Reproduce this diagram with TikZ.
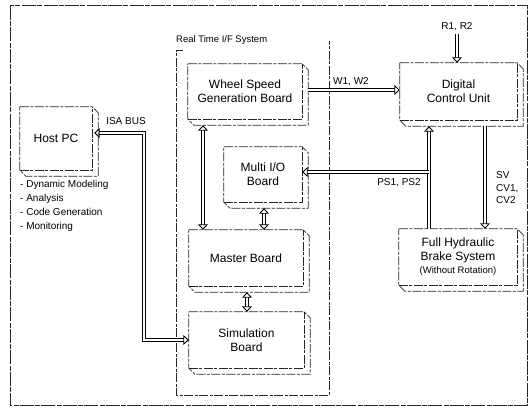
\documentclass[tikz,border=0pt]{standalone}
\usepackage{fontspec}
\setmainfont{Liberation Sans}
\usetikzlibrary{arrows.meta,calc}
\tikzset{
  boxline/.style={draw=black!85, line width=0.8pt, dash pattern=on 9pt off 1.5pt on 3pt off 1.5pt},
  frame/.style={draw=black!85, line width=1pt, dash pattern=on 14pt off 1.5pt on 5pt off 1pt},
  tdnode/.style={draw=none, inner sep=0pt, align=center, font=\fontsize{12}{14}\selectfont},
  dbl/.style={draw=black, line width=0.9pt, double=white, double distance=2.6pt},
  htip/.tip={Triangle[open, length=5.5pt, width=10pt, line width=0.9pt]},
  lbl/.style={font=\fontsize{10}{12}\selectfont, inner sep=0pt},
}
\newcommand\tdbox[1]{%
  \draw[boxline] (#1.north west) -- (#1.north east) -- ([shift={(6pt,-6pt)}]#1.north east)
    -- ([shift={(6pt,-6pt)}]#1.south east) -- ([shift={(6pt,-6pt)}]#1.south west)
    -- (#1.south west) -- cycle;
  \draw[boxline] (#1.south west) -- (#1.south east) -- (#1.north east);
  \coordinate (#1-os) at ([yshift=-6pt]#1.south);
  \coordinate (#1-oe) at ([xshift=6pt]#1.east);
}
\begin{document}
\begin{tikzpicture}[x=1pt,y=-1pt]
\useasboundingbox (0,0) rectangle (532,409);
% outer frame
\draw[frame] (10,6) rectangle (527,405);
% real time container
\node[lbl, anchor=west, font=\fontsize{9.5}{11}\selectfont] (rtlbl) at (176,40) {Real Time I/F System};
\draw[boxline] (183,50) -- (176,50) -- (176,395) -- (329,395) -- (329,41);

% boxes (front faces)
\node[tdnode, minimum width=72pt, minimum height=63pt] (host) at (56,138.5) {Host PC};
\node[tdnode, minimum width=114pt, minimum height=55pt] (wsgb) at (245,91.5) {Wheel Speed\\Generation Board};
\node[tdnode, minimum width=78pt, minimum height=55pt] (mio) at (263,174.5) {Multi I/O\\Board};
\node[tdnode, minimum width=114pt, minimum height=56pt] (master) at (246,258) {Master Board};
\node[tdnode, minimum width=115pt, minimum height=56pt] (sim) at (246.5,340) {Simulation\\Board};
\node[tdnode, minimum width=117pt, minimum height=57pt] (dcu) at (458.5,91.5) {Digital\\Control Unit};
\node[tdnode, minimum width=118pt, minimum height=56pt] (fhbs) at (458,257)
  {Full Hydraulic\\Brake System\\[-1pt]{\fontsize{9.5}{11}\selectfont (Without Rotation)}};
\foreach \n in {host,wsgb,mio,master,sim,dcu,fhbs} {\tdbox{\n}}

% host description
\node[lbl, anchor=west, align=left, font=\fontsize{10}{13.8}\selectfont] (desc) at (20,206)
  {- Dynamic Modeling\\- Analysis\\- Code Generation\\- Monitoring};

% helper positions for connectors
\coordinate (xa) at (203,0);
\coordinate (xb) at (264,0);
\coordinate (xc) at (247,0);
\coordinate (xsv) at (485,0);
\coordinate (xps) at (429,0);
\coordinate (xisa) at (144,0);
\coordinate (yw) at (0,90);
\coordinate (yisa) at (0,133);
\coordinate (ps) at (429,172);

% connectors
\draw[dbl, -{htip}] (wsgb-oe |- yw) -- (dcu.west |- yw);
\node[lbl] (w12) at (351,82) {W1, W2};

\node[lbl] (r12) at (457,27) {R1, R2};
\draw[dbl, -{htip}] ([yshift=-3pt]r12.south) -- (r12.south |- dcu.north);

\draw[dbl, -{htip}] (xsv |- dcu-os) -- (xsv |- fhbs.north);
\node[lbl, anchor=west, align=left, font=\fontsize{10}{12.5}\selectfont] (svl) at (496,188) {SV\\CV1,\\CV2};

\draw[dbl, -{htip}] (xps |- fhbs.north) -- (xps |- dcu-os);
\draw[dbl, -{htip}] (ps) -- (mio.east |- ps);
\node[lbl] (psl) at (399,183) {PS1, PS2};

\draw[dbl, {htip}-{htip}] ([xshift=2pt]host.east |- yisa) -- (xisa |- yisa) |- (sim.west);
\node[lbl] (isa) at (126,121) {ISA BUS};

\draw[dbl, {htip}-{htip}] (xa |- wsgb-os) -- (xa |- master.north);
\draw[dbl, {htip}-{htip}] (xb |- mio-os) -- (xb |- master.north);
\draw[dbl, {htip}-{htip}] (xc |- master-os) -- (xc |- sim.north);
\end{tikzpicture}
\end{document}
